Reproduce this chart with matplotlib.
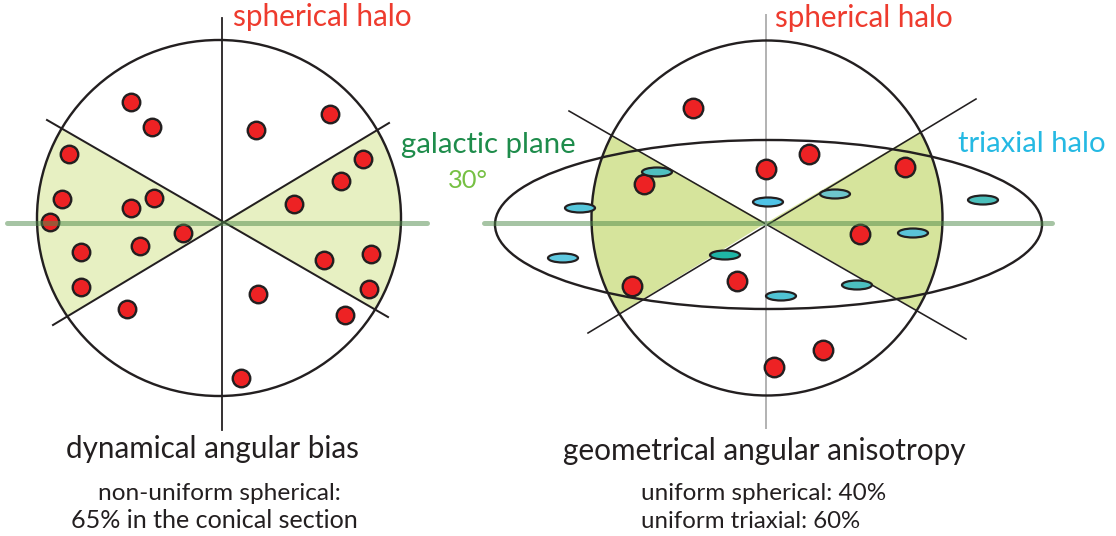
import matplotlib
matplotlib.use('Agg')
import matplotlib.pyplot as plt
from matplotlib.patches import Ellipse, Polygon
import numpy as np

# ---------------- data (pixel coordinates of the diagram) ----------------
left_red_x = [131, 152, 256, 330, 69, 363, 341, 62, 131, 154, 294, 50, 183, 81, 140, 324, 371, 81, 369, 127, 258, 345, 241]
left_red_y = [102, 127, 130, 114, 154, 159, 181, 199, 208, 198, 204, 222, 233, 252, 246, 260, 254, 287, 289, 309, 294, 315, 378]

right_red_x = [693, 809, 766, 905, 644, 860, 632, 737, 823, 774]
right_red_y = [108, 154, 169, 167, 184, 234, 286, 281, 350, 367]

cyan_x = [657, 580, 768, 835, 983, 563, 725, 913, 857, 781]
cyan_y = [172, 208, 202, 194, 200, 258, 255, 233, 285, 296]
cyan_colors = ['#4fc0c0', '#55c6da', '#4fc3e6', '#6ec6cc', '#4bbfbb',
               '#5fc9e0', '#1fb5a6', '#5ac4d8', '#4cbfc0', '#50c4d4']

# ---------------- figure ----------------
W, H = 1116, 536
fig = plt.figure(figsize=(W / 100, H / 100), dpi=100)
ax = fig.add_axes([0, 0, 1, 1])
ax.set_xlim(0, W)
ax.set_ylim(H, 0)
ax.axis('off')
PX = 0.72  # points per pixel
INK = '#231f20'
FONT = ['Lato', 'DejaVu Sans']


def panel(cross, circ_c, circ_w, circ_h, ends, fill_color, cone_lw, vline, vcolor, vlw, hline):
    cx, cy = cross
    circ = Ellipse(circ_c, circ_w, circ_h, fill=False, ec=INK, lw=2.4 * PX, zorder=4)
    ax.add_patch(circ)
    clip = Ellipse(circ_c, circ_w, circ_h, transform=ax.transData)
    ul, lr, ll, ur = [np.array(e, float) for e in ends]
    c = np.array(cross, float)
    for a, b in [(ul, ll), (ur, lr)]:
        poly = Polygon([c, c + 3 * (a - c), c + 3 * (b - c)], closed=True,
                       fc=fill_color, ec='none', zorder=1)
        ax.add_patch(poly)
        poly.set_clip_path(clip)
    for a, b in [(ul, lr), (ll, ur)]:
        ax.plot([a[0], b[0]], [a[1], b[1]], color=INK, lw=cone_lw, zorder=3)
    ax.plot([cx, cx], vline, color=vcolor, lw=vlw, zorder=3)
    ax.plot(hline[0], [hline[1], hline[1]], color='#4f8a4a', alpha=0.5,
            lw=5 * PX, solid_capstyle='round', zorder=8)


# left panel
panel((222, 222), (219, 218), 364, 356,
      [(47, 120), (388, 317), (53, 325), (389, 123)],
      '#e7f0c2', 2.0 * PX, (18, 430), INK, 1.8 * PX, ((7, 427), 222.5))
ax.scatter(left_red_x, left_red_y, s=(17.5 * PX) ** 2, c='#ed2224',
           edgecolors=INK, linewidths=2.4 * PX, zorder=6)

# right panel
panel((766, 223), (767, 218), 351, 355,
      [(569, 111), (966, 339), (588, 333), (976, 99)],
      '#d6e49c', 1.6 * PX, (15, 428), '#b4b4b4', 2 * PX, ((484, 1052), 223))
ax.add_patch(Ellipse((768.5, 224.5), 547, 169, fill=False, ec=INK, lw=2.4 * PX, zorder=4))
ax.scatter(right_red_x, right_red_y, s=(19.5 * PX) ** 2, c='#ed2224',
           edgecolors=INK, linewidths=2.4 * PX, zorder=6)
for x, y, col in zip(cyan_x, cyan_y, cyan_colors):
    ax.add_patch(Ellipse((x, y), 30, 9, fc=col, ec=INK, lw=2.2 * PX, zorder=7))

# ---------------- texts ----------------
renderer = fig.canvas.get_renderer()


def fit_text(s, x0, x1, yb, color):
    t = ax.text((x0 + x1) / 2, yb, s, ha='center', va='baseline', color=color,
                fontsize=20, family=FONT, zorder=10)
    bb = t.get_window_extent(renderer)
    t.set_fontsize(20 * (x1 - x0) / bb.width)
    return t


RED = '#ee3b2e'
fit_text('spherical halo', 233, 412, 26, RED)
fit_text('spherical halo', 775, 953, 27, RED)
fit_text('galactic plane', 401, 576, 153, '#1e8c4b')
fit_text('30°', 448, 488, 188, '#76c043')
fit_text('triaxial halo', 958, 1106, 152, '#25b9e3')
fit_text('dynamical angular bias', 66, 359, 458, INK)
fit_text('non-uniform spherical:', 98, 341, 500, INK)
fit_text('65% in the conical section', 70, 358, 528, INK)
fit_text('geometrical angular anisotropy', 562, 966, 460, INK)
fit_text('uniform spherical: 40%', 641, 886, 500, INK)
fit_text('uniform triaxial: 60%', 641, 861, 528, INK)

fig.savefig('out.png', dpi=100)
